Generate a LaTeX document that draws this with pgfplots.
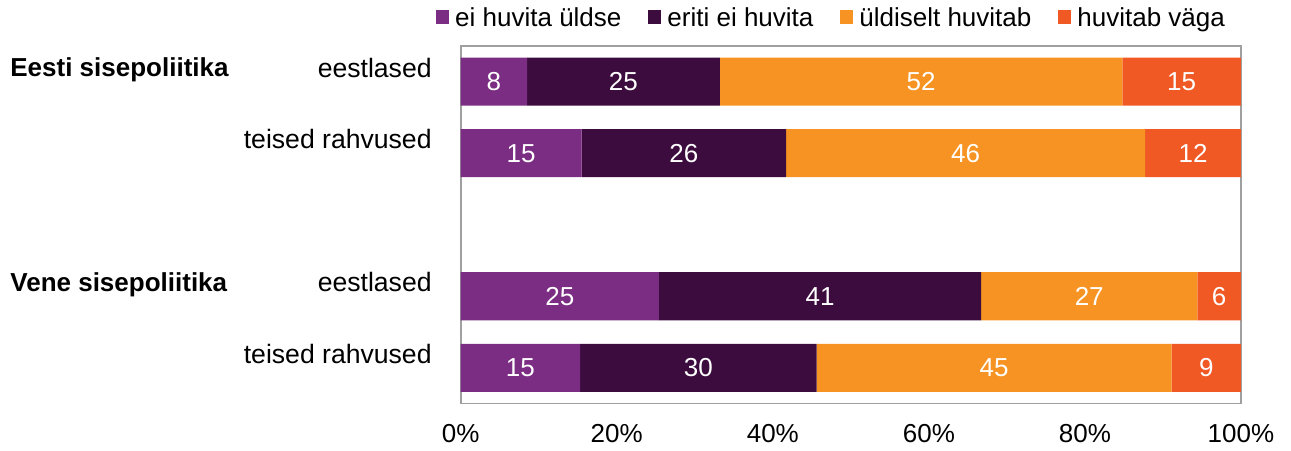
\documentclass[border=0pt]{standalone}
\usepackage{pgfplots}
\pgfplotsset{compat=1.18}
\usepackage{pgfplotstable}
\usepackage{fontspec}
\setmainfont{Liberation Sans}
\definecolor{c1}{RGB}{123,44,131}
\definecolor{c2}{RGB}{60,12,62}
\definecolor{c3}{RGB}{246,147,34}
\definecolor{c4}{RGB}{240,88,36}
\definecolor{axgray}{RGB}{160,160,160}
\pgfplotstableread{
y v1 v2 v3 v4 l1 l2 l3 l4
4 8.5 24.7 51.6 15.2 8 25 52 15
3 15.5 26.2 46.0 12.3 15 26 46 12
1 25.4 41.3 27.7 5.6 25 41 27 6
0 15.3 30.3 45.5 8.9 15 30 45 9
}\data
\begin{document}
\begin{tikzpicture}[font=\fontsize{13}{15.6}\selectfont]
\begin{axis}[
  xbar stacked, bar width=24pt,
  scale only axis, width=390.15pt, height=178.75pt,
  xmin=0, xmax=100, ymin=-0.5, ymax=4.5,
  clip=false,
  axis line style={draw=axgray, line width=0.9pt},
  major tick length=0pt,
  /pgf/number format/assume math mode=true,
  xtick={0,20,40,60,80,100},
  xticklabel={\pgfmathprintnumber{\tick}\%},
  xticklabel style={yshift=-7pt},
  ytick={0,1,3,4},
  yticklabels={teised rahvused,eestlased,teised rahvused,eestlased},
  yticklabel style={xshift=-11pt, yshift=7pt, font=\fontsize{13.3}{16}\selectfont},
  nodes near coords, point meta=explicit,
  every node near coord/.append style={white, anchor=center},
  legend columns=4,
  legend style={at={(0.474,1.078)}, anchor=center, draw=none, fill=none,
    inner sep=0pt, nodes={inner sep=0pt},
    /tikz/every odd column/.append style={column sep=3pt},
    /tikz/every even column/.append style={column sep=13.5pt}},
  legend image code/.code={\fill[#1] (0pt,-2.9pt) rectangle (6.5pt,3.9pt);},
]
\addplot[fill=c1, draw=none] table[x=v1, y=y, meta=l1] {\data};
\addplot[fill=c2, draw=none] table[x=v2, y=y, meta=l2] {\data};
\addplot[fill=c3, draw=none] table[x=v3, y=y, meta=l3] {\data};
\addplot[fill=c4, draw=none] table[x=v4, y=y, meta=l4] {\data};
\legend{ei huvita üldse, eriti ei huvita, üldiselt huvitab, huvitab väga}
\node[anchor=base west, inner sep=0pt, font=\fontsize{13}{15.6}\selectfont\bfseries, xshift=-225.35pt, yshift=2.6pt] at (axis cs:0,4) {Eesti sisepoliitika};
\node[anchor=base west, inner sep=0pt, font=\fontsize{13}{15.6}\selectfont\bfseries, xshift=-225.35pt, yshift=2.6pt] at (axis cs:0,1) {Vene sisepoliitika};
\end{axis}
\pgfresetboundingbox
\path[use as bounding box] (-230.35pt,-23.25pt) rectangle (415.15pt,201.75pt);
\end{tikzpicture}
\end{document}
